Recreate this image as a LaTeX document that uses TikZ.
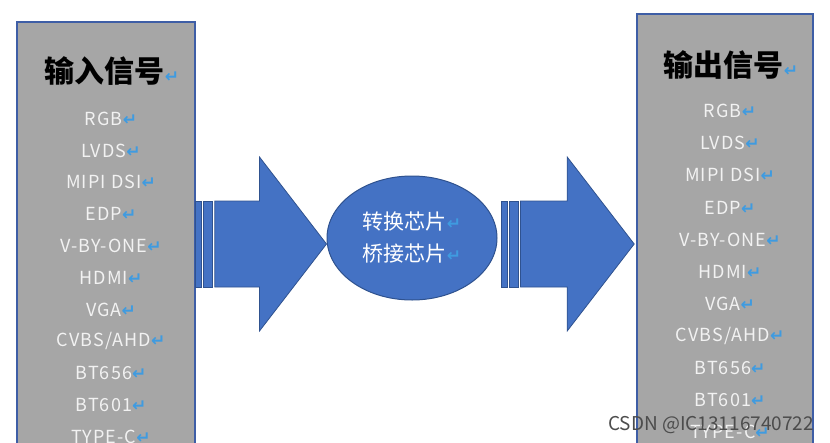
\documentclass[tikz,border=0pt]{standalone}
\usepackage{fontspec}
\setmainfont{Noto Sans CJK SC}
\newfontfamily\itemfont[LetterSpace=6]{Noto Sans CJK SC}
\newfontfamily\symfont{DejaVu Sans}
\usepackage{tikz}
\usetikzlibrary{
    positioning,
    shapes.geometric
}
\definecolor{boxgray}{HTML}{A6A6A6}
\definecolor{boxline}{HTML}{3E5EA6}
\definecolor{chipblue}{HTML}{4472C4}
\definecolor{chipline}{HTML}{2F528F}
\definecolor{itemwhite}{HTML}{F2F2F2}
\definecolor{markblue}{HTML}{3F9BE0}
\newcommand{\retmark}{{\symfont\fontsize{17}{17}\selectfont\bfseries\color{markblue}↵}}
% striped block arrow from #1 to tip #2
\newcommand{\stripedarrow}[2]{%
    \path (#1) coordinate (sa) (#2) coordinate (ta);
    \filldraw[arrowbody] ([shift={(0,-43)}]sa) rectangle ([shift={(6,43)}]sa);
    \filldraw[arrowbody] ([shift={(8,-43)}]sa) rectangle ([shift={(17,43)}]sa);
    \filldraw[arrowbody] ([shift={(19,-43)}]sa) -- ([shift={(-67,-43)}]ta)
        -- ([shift={(-67,-87)}]ta) -- (ta) -- ([shift={(-67,87)}]ta)
        -- ([shift={(-67,43)}]ta) -- ([shift={(19,43)}]sa) -- cycle;
}
\tikzset{
    sigbox/.style={
        rectangle, draw=boxline, line width=1.6pt, fill=boxgray,
        minimum width=178, minimum height=440, inner sep=0pt
    },
    sigtitle/.style={
        font=\fontsize{30}{32}\selectfont\bfseries, text=black, inner sep=0pt
    },
    sigitem/.style={
        font=\itemfont\fontsize{18}{19}\selectfont, text=itemwhite, inner sep=0pt
    },
    arrowbody/.style={
        fill=chipblue, draw=chipline, line width=0.8pt, line join=miter
    },
    chip/.style={
        ellipse, fill=chipblue, draw=chipline, line width=1pt,
        minimum width=170, minimum height=124, inner sep=0pt, align=center,
        font=\fontsize{21}{32}\selectfont, text=white
    }
}

\begin{document}
\begin{tikzpicture}[x=1pt, y=-1pt]
    \useasboundingbox (0,0) rectangle (830,442);
    \clip (0,0) rectangle (830,442);

    % --- SIGNAL BOXES ---
    \node[sigbox] (inbox) at (106,242) {};
    \node[sigbox, minimum width=176] (outbox) at (725,234) {};

    \node[sigtitle] (intitle) at (112,71) {输入信号\retmark};
    \node[sigtitle] (outtitle) at (731,65) {输出信号\retmark};

    \foreach \s [count=\i] in {RGB,LVDS,MIPI DSI,EDP,V-BY-ONE,HDMI,VGA,CVBS/AHD,BT656,BT601,TYPE-C} {
        \node[sigitem] (in\i) at (111,{87+31.8*\i}) {\s\retmark};
        \node[sigitem] (out\i) at (730,{79+32.1*\i}) {\s\retmark};
    }

    % --- CHIP ---
    \node[chip] (chip) at (412,238) {转换芯片\retmark\\桥接芯片\retmark};

    % --- ARROWS ---
    \coordinate (lstart) at (inbox.east |- 0,244);
    \coordinate (ltip) at (chip.west |- lstart);
    \coordinate (rstart) at ([xshift=4]chip.east |- lstart);
    \coordinate (rtip) at ([xshift=-2]outbox.west |- lstart);
    \stripedarrow{lstart}{ltip}
    \stripedarrow{rstart}{rtip}

    % --- WATERMARK ---
    \node[font=\fontsize{19}{20}\selectfont, text=black!70] (mark) at (711,425) {CSDN @IC13116740722};
\end{tikzpicture}
\end{document}
